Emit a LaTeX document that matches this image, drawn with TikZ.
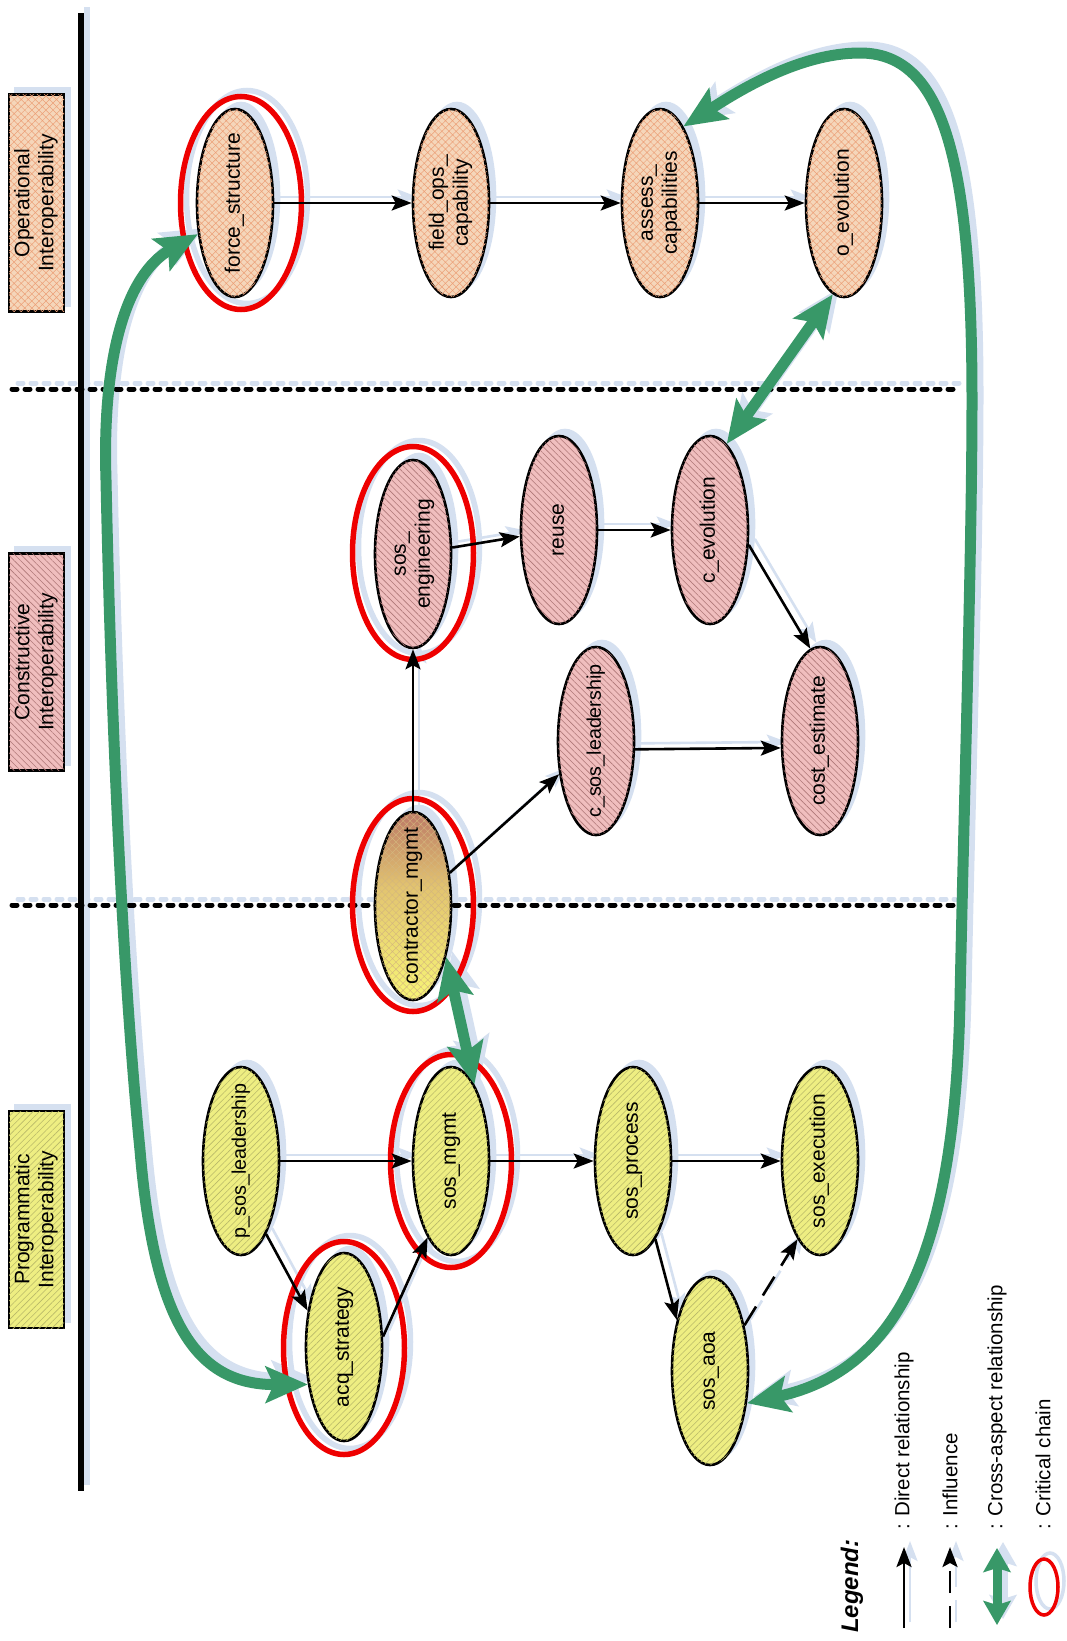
\documentclass[tikz,border=0pt]{standalone}
\usepackage{fontspec}
\setmainfont{Liberation Sans}
\usetikzlibrary{shapes.geometric,arrows.meta,patterns.meta}
\definecolor{shb}{RGB}{213,224,240}
\colorlet{ink}{black}
\definecolor{redink}{RGB}{238,0,0}
\definecolor{greenink}{RGB}{56,152,104}
\definecolor{yfill}{RGB}{238,238,130}
\definecolor{yhatch}{RGB}{185,185,105}
\definecolor{pfill}{RGB}{240,190,190}
\definecolor{phatch}{RGB}{175,120,120}
\definecolor{cfill}{RGB}{245,214,186}
\definecolor{chatch}{RGB}{236,160,120}
\definecolor{cmtop}{RGB}{192,128,104}
\definecolor{cmmid}{RGB}{226,196,112}
\definecolor{cmbot}{RGB}{246,242,118}
\definecolor{cmhatch}{RGB}{212,182,125}
\pgfdeclareverticalshading{cmshade}{100bp}{color(0bp)=(cmbot); color(27bp)=(cmbot); color(55bp)=(cmmid); color(73bp)=(cmtop); color(100bp)=(cmtop)}
\newcommand\rottext[1]{\makebox[0pt][c]{\raisebox{-0.5\height}[0pt][0pt]{\rotatebox{90}{\begin{tabular}{@{}c@{}}#1\end{tabular}}}}}
\newcommand\legtext[1]{#1}
\tikzset{
 fsz/.style={font=\fontsize{21}{24}\selectfont},
 ell/.style={ellipse, draw=ink, line width=2.6pt, minimum width=76pt, minimum height=188pt, inner sep=0pt, fsz},
 yel/.style={fill=yfill, postaction={pattern={Lines[angle=45,distance=4.5pt,line width=0.6pt]}, pattern color=yhatch}},
 pnk/.style={fill=pfill, postaction={pattern={Lines[angle=-45,distance=4.5pt,line width=0.6pt]}, pattern color=phatch}},
 pch/.style={fill=cfill, postaction={pattern={Hatch[angle=45,distance=5pt,line width=0.5pt]}, pattern color=chatch}},
 cmf/.style={shading=cmshade, postaction={pattern={Hatch[angle=45,distance=5pt,line width=0.4pt]}, pattern color=cmhatch}},
 crit/.style={ellipse, draw=redink, line width=5.5pt, minimum width=121pt, minimum height=213pt, inner sep=0pt},
 lbl/.style={rectangle, draw=ink, line width=2.8pt, minimum width=55pt, minimum height=217pt, inner sep=0pt, fsz},
 blk/.style={draw=ink, line width=2.6pt, -{Stealth[length=20pt,width=15pt,inset=4pt]}},
 infl/.style={blk, dash pattern=on 22pt off 13pt},
 grn/.style={draw=greenink, line width=11pt, {Stealth[length=42pt,width=36pt,inset=8pt]}-{Stealth[length=42pt,width=36pt,inset=8pt]}},
 grnleg/.style={draw=greenink, line width=9pt, {Stealth[length=24pt,width=27pt,inset=4pt]}-{Stealth[length=24pt,width=27pt,inset=4pt]}},
 vline/.style={draw=ink, line width=5.5pt},
 sepline/.style={draw=ink, line width=5pt, line cap=round, dash pattern=on 5pt off 8pt},
 critleg/.style={ellipse, draw=redink, line width=3.5pt, minimum width=28pt, minimum height=56pt, inner sep=0pt},
 legt/.style={rotate=90, anchor=west, inner sep=0pt, font=\fontsize{20.5}{24}\selectfont, text=ink},
}
\newcommand\drawscene{%
 \coordinate (vt) at (81,13); \coordinate (vb) at (81,1491);
 \draw[vline] (vt) -- (vb);
 \coordinate (s1a) at (12,389); \coordinate (s1b) at (960,389);
 \coordinate (s2a) at (12,905); \coordinate (s2b) at (960,905);
 \draw[sepline] (s1a) -- (s1b);
 \draw[sepline] (s2a) -- (s2b);
 \node[lbl,pch] (lop) at (36.5,203) {\rottext{Operational\\Interoperability}};
 \node[lbl,pnk] (lco) at (36.5,662) {\rottext{Constructive\\Interoperability}};
 \node[lbl,yel] (lpr) at (36.5,1219.5) {\rottext{Programmatic\\Interoperability}};
 \node[ell,pch] (fs) at (235,203) {\rottext{force\_structure}};
 \node[ell,pch] (fo) at (451,203) {\rottext{field\_ops\_\\capability}};
 \node[ell,pch] (ac) at (660,203) {\rottext{assess\_\\capabilities}};
 \node[ell,pch] (oe) at (844,203) {\rottext{o\_evolution}};
 \node[ell,pnk] (se) at (413,554) {\rottext{sos\_\\engineering}};
 \node[ell,pnk] (ru) at (559,530) {\rottext{reuse}};
 \node[ell,pnk] (cev) at (710,530) {\rottext{c\_evolution}};
 \node[ell,pnk] (csl) at (596,741) {\rottext{\fontsize{19.7}{24}\selectfont c\_sos\_leadership}};
 \node[ell,pnk] (ce) at (820,741) {\rottext{cost\_estimate}};
 \node[ell,cmf] (cm) at (413,906) {\rottext{contractor\_mgmt}};
 \node[ell,yel] (psl) at (241,1161) {\rottext{\fontsize{19.7}{24}\selectfont p\_sos\_leadership}};
 \node[ell,yel] (sm) at (451,1161) {\rottext{sos\_mgmt}};
 \node[ell,yel] (sp) at (633,1161) {\rottext{sos\_process}};
 \node[ell,yel] (sx) at (820,1161) {\rottext{sos\_execution}};
 \node[ell,yel] (acq) at (344,1347) {\rottext{acq\_strategy}};
 \node[ell,yel] (aoa) at (710,1371) {\rottext{sos\_aoa}};
 \node[crit] (rfs) at (241,203) {};
 \node[crit] (rse) at (413,553) {};
 \node[crit] (rcm) at (413,905) {};
 \node[crit] (rsm) at (451,1161) {};
 \node[crit] (racq) at (344,1348) {};
 \draw[blk] (fs) -- (fo);
 \draw[blk] (fo) -- (ac);
 \draw[blk] (ac) -- (oe);
 \draw[blk] (se) -- (ru);
 \draw[blk] (ru) -- (cev);
 \draw[blk] (cev.-21) -- (ce.96);
 \draw[blk] (csl.-12) -- (ce.190);
 \draw[blk] (cm) -- (csl);
 \draw[blk] (cm) -- (se);
 \draw[blk] (psl) -- (sm);
 \draw[blk] (psl.-71) -- (acq.135);
 \draw[blk] (acq.15) -- (sm.253);
 \draw[blk] (sm) -- (sp);
 \draw[blk] (sp) -- (sx);
 \draw[blk] (sp.-74) -- (aoa.123);
 \draw[infl] (aoa.53) -- (sx.254);
 \draw[grn] (fs.220) .. controls (125,275) and (102,360) .. (106,480) .. controls (112,760) and (125,1000) .. (140,1150) .. controls (155,1330) and (200,1385) .. (acq.226);
 \draw[grn] (cm.-57) -- (sm.73);
 \draw[grn] (oe.263) -- (cev.79);
 \draw[grn] (aoa.-41) .. controls (900,1370) and (955,1250) .. (960,1000) .. controls (964,800) and (972,550) .. (972,400) .. controls (972,150) and (940,53) .. (860,53) .. controls (800,53) and (740,90) .. (ac.73);
 \node[legt, font=\fontsize{24}{28}\selectfont\bfseries\itshape] (lt0) at (852,1633) {\legtext{Legend:}};
 \coordinate (lda) at (904,1628); \coordinate (ldb) at (904,1547);
 \draw[blk] (lda) -- (ldb);
 \coordinate (lia) at (950,1628); \coordinate (lib) at (950,1547);
 \draw[infl] (lia) -- (lib);
 \coordinate (lga) at (997,1625); \coordinate (lgb) at (997,1548);
 \draw[grnleg] (lga) -- (lgb);
 \node[critleg] (lcc) at (1044,1587) {};
 \node[legt] (lt1) at (904,1530) {\legtext{: Direct relationship}};
 \node[legt] (lt2) at (950,1530) {\legtext{: Influence}};
 \node[legt] (lt3) at (997,1530) {\legtext{: Cross-aspect relationship}};
 \node[legt] (lt4) at (1043,1530) {\legtext{: Critical chain}};
}
\begin{document}
\begin{tikzpicture}[x=1pt,y=-1pt]
 \useasboundingbox (0,0) rectangle (1067,1641);
 \fill[white] (0,0) rectangle (1067,1641);
 \begin{scope}[name prefix=sh-, shift={(6,-6)}, cmf/.style={fill=shb}]
  \colorlet{ink}{shb}\colorlet{redink}{shb}\colorlet{greenink}{shb}
  \colorlet{yfill}{shb}\colorlet{yhatch}{shb}\colorlet{pfill}{shb}\colorlet{phatch}{shb}
  \colorlet{cfill}{shb}\colorlet{chatch}{shb}
  \renewcommand\rottext[1]{}\renewcommand\legtext[1]{}
  \drawscene
 \end{scope}
 \drawscene
\end{tikzpicture}
\end{document}
